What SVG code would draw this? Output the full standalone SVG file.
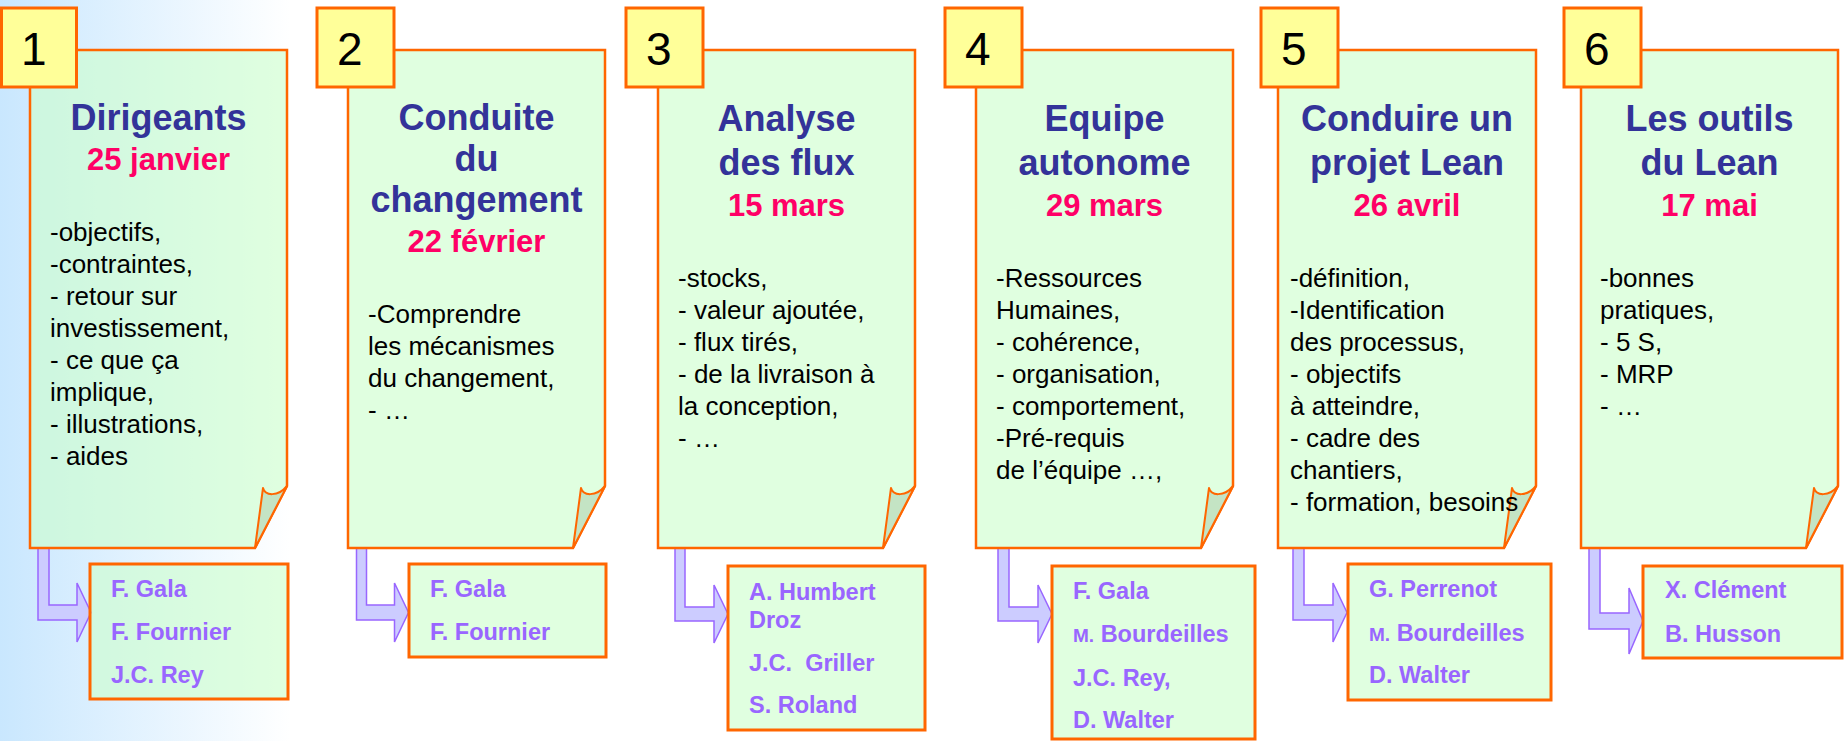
<svg xmlns="http://www.w3.org/2000/svg" width="1844" height="741" viewBox="0 0 1844 741">
<defs>
<linearGradient id="bg" x1="0" y1="0" x2="290" y2="0" gradientUnits="userSpaceOnUse">
<stop offset="0" stop-color="#c9e7fe"/>
<stop offset="1" stop-color="#ffffff"/>
</linearGradient>
</defs>
<style>
text{font-family:"Liberation Sans",Arial,sans-serif}
.num rect{fill:#ffff99;stroke:#ff6600;stroke-width:3}
.num text{font-size:46px;fill:#000}
.note{fill:#ccffcc;fill-opacity:.6;stroke:#ff6600;stroke-width:2.5}
.curl{fill:#c4e4c4;stroke:#ff6600;stroke-width:2;stroke-linejoin:round}
.sub{fill:#ccffcc;fill-opacity:.6;stroke:#ff6600;stroke-width:3}
.arrow{fill:#ccccff;stroke:#9966ff;stroke-width:1.5}
.title{font-size:36px;font-weight:bold;fill:#333399;text-anchor:middle}
.date{font-size:31px;font-weight:bold;fill:#ff0066;text-anchor:middle}
.body{font-size:26px;fill:#000}
.name{font-size:23.5px;font-weight:bold;fill:#9966ff;white-space:pre}
.sm{font-size:19px}
</style>
<rect width="1844" height="741" fill="url(#bg)"/>

<g id="connectors">
<polygon class="arrow" points="38,548 49,548 49,605 77,605 77,583 91,612.5 77,642 77,620 38,620"/>
<polygon class="arrow" points="356.5,548 366.5,548 366.5,605 394.5,605 394.5,583 408.5,612.5 394.5,642 394.5,620 356.5,620"/>
<polygon class="arrow" points="675,548 685,548 685,607 714,607 714,585 728,614 714,643 714,621 675,621"/>
<polygon class="arrow" points="998,548 1009,548 1009,607 1038,607 1038,585 1052,614 1038,643 1038,621 998,621"/>
<polygon class="arrow" points="1293,548 1304,548 1304,605 1333,605 1333,583 1347,612.5 1333,642 1333,620 1293,620"/>
<polygon class="arrow" points="1589,548 1600,548 1600,613 1629,613 1629,588 1643,621 1629,654 1629,629 1589,629"/>
</g>

<g id="note1">
<path class="note" d="M30,50 H287 V486 L255,548 H30 Z"/>
<path class="curl" d="M263,488 C265,496 278,497 287,486 L255,548 Z"/>
<text class="title" x="158.5" y="130">Dirigeants</text>
<text class="date" x="158.5" y="170">25 janvier</text>
<text class="body" x="50"><tspan x="50" y="241">-objectifs,</tspan><tspan x="50" y="273">-contraintes,</tspan><tspan x="50" y="305">- retour sur</tspan><tspan x="50" y="337">investissement,</tspan><tspan x="50" y="369">- ce que ça</tspan><tspan x="50" y="401">implique,</tspan><tspan x="50" y="433">- illustrations,</tspan><tspan x="50" y="465">- aides</tspan></text>
</g>
<g id="num1" class="num"><rect x="1.5" y="8" width="75" height="79"/><text x="21" y="65">1</text></g>
<g id="team1">
<rect class="sub" x="90" y="564" width="198" height="135"/>
<text class="name" x="111" y="597">F. Gala</text>
<text class="name" x="111" y="640">F. Fournier</text>
<text class="name" x="111" y="683">J.C. Rey</text>
</g>

<g id="note2">
<path class="note" d="M348,50 H605 V486 L573,548 H348 Z"/>
<path class="curl" d="M581,488 C583,496 596,497 605,486 L573,548 Z"/>
<text class="title" x="476.5" y="130">Conduite</text>
<text class="title" x="476.5" y="171">du</text>
<text class="title" x="476.5" y="212">changement</text>
<text class="date" x="476.5" y="252">22 février</text>
<text class="body"><tspan x="368" y="323">-Comprendre</tspan><tspan x="368" y="355">les mécanismes</tspan><tspan x="368" y="387">du changement,</tspan><tspan x="368" y="419">- …</tspan></text>
</g>
<g id="num2" class="num"><rect x="317" y="8" width="77" height="79"/><text x="337" y="65">2</text></g>
<g id="team2">
<rect class="sub" x="409" y="564" width="197" height="93"/>
<text class="name" x="430" y="597">F. Gala</text>
<text class="name" x="430" y="640">F. Fournier</text>
</g>

<g id="note3">
<path class="note" d="M658,50 H915 V486 L883,548 H658 Z"/>
<path class="curl" d="M891,488 C893,496 906,497 915,486 L883,548 Z"/>
<text class="title" x="786.5" y="131">Analyse</text>
<text class="title" x="786.5" y="175">des flux</text>
<text class="date" x="786.5" y="216">15 mars</text>
<text class="body"><tspan x="678" y="287">-stocks,</tspan><tspan x="678" y="319">- valeur ajoutée,</tspan><tspan x="678" y="351">- flux tirés,</tspan><tspan x="678" y="383">- de la livraison à</tspan><tspan x="678" y="415">la conception,</tspan><tspan x="678" y="447">- …</tspan></text>
</g>
<g id="num3" class="num"><rect x="626" y="8" width="77" height="79"/><text x="646" y="65">3</text></g>
<g id="team3">
<rect class="sub" x="728" y="566" width="197" height="164"/>
<text class="name" x="749" y="600">A. Humbert</text>
<text class="name" x="749" y="628">Droz</text>
<text class="name" x="749" y="671">J.C.  Griller</text>
<text class="name" x="749" y="713">S. Roland</text>
</g>

<g id="note4">
<path class="note" d="M976,50 H1233 V486 L1201,548 H976 Z"/>
<path class="curl" d="M1209,488 C1211,496 1224,497 1233,486 L1201,548 Z"/>
<text class="title" x="1104.5" y="131">Equipe</text>
<text class="title" x="1104.5" y="175">autonome</text>
<text class="date" x="1104.5" y="216">29 mars</text>
<text class="body"><tspan x="996" y="287">-Ressources</tspan><tspan x="996" y="319">Humaines,</tspan><tspan x="996" y="351">- cohérence,</tspan><tspan x="996" y="383">- organisation,</tspan><tspan x="996" y="415">- comportement,</tspan><tspan x="996" y="447">-Pré-requis</tspan><tspan x="996" y="479">de l’équipe …,</tspan></text>
</g>
<g id="num4" class="num"><rect x="945" y="8" width="77" height="79"/><text x="965" y="65">4</text></g>
<g id="team4">
<rect class="sub" x="1052" y="566" width="203" height="173"/>
<text class="name" x="1073" y="599">F. Gala</text>
<text class="name" x="1073" y="642"><tspan class="sm">M.</tspan> Bourdeilles</text>
<text class="name" x="1073" y="686">J.C. Rey,</text>
<text class="name" x="1073" y="728">D. Walter</text>
</g>

<g id="note5">
<path class="note" d="M1278,50 H1536 V486 L1504,548 H1278 Z"/>
<path class="curl" d="M1512,488 C1514,496 1527,497 1536,486 L1504,548 Z"/>
<text class="title" x="1407" y="131">Conduire un</text>
<text class="title" x="1407" y="175">projet Lean</text>
<text class="date" x="1407" y="216">26 avril</text>
<text class="body"><tspan x="1290" y="287">-définition,</tspan><tspan x="1290" y="319">-Identification</tspan><tspan x="1290" y="351">des processus,</tspan><tspan x="1290" y="383">- objectifs</tspan><tspan x="1290" y="415">à atteindre,</tspan><tspan x="1290" y="447">- cadre des</tspan><tspan x="1290" y="479">chantiers,</tspan><tspan x="1290" y="511">- formation, besoins</tspan></text>
</g>
<g id="num5" class="num"><rect x="1261" y="8" width="77" height="79"/><text x="1281" y="65">5</text></g>
<g id="team5">
<rect class="sub" x="1348" y="564" width="203" height="136"/>
<text class="name" x="1369" y="597">G. Perrenot</text>
<text class="name" x="1369" y="641"><tspan class="sm">M.</tspan> Bourdeilles</text>
<text class="name" x="1369" y="683">D. Walter</text>
</g>

<g id="note6">
<path class="note" d="M1581,50 H1838 V486 L1806,548 H1581 Z"/>
<path class="curl" d="M1814,488 C1816,496 1829,497 1838,486 L1806,548 Z"/>
<text class="title" x="1709.5" y="131">Les outils</text>
<text class="title" x="1709.5" y="175">du Lean</text>
<text class="date" x="1709.5" y="216">17 mai</text>
<text class="body"><tspan x="1600" y="287">-bonnes</tspan><tspan x="1600" y="319">pratiques,</tspan><tspan x="1600" y="351">- 5 S,</tspan><tspan x="1600" y="383">- MRP</tspan><tspan x="1600" y="415">- …</tspan></text>
</g>
<g id="num6" class="num"><rect x="1564" y="8" width="77" height="79"/><text x="1584" y="65">6</text></g>
<g id="team6">
<rect class="sub" x="1643" y="566" width="199" height="92"/>
<text class="name" x="1665" y="598">X. Clément</text>
<text class="name" x="1665" y="642">B. Husson</text>
</g>
</svg>
